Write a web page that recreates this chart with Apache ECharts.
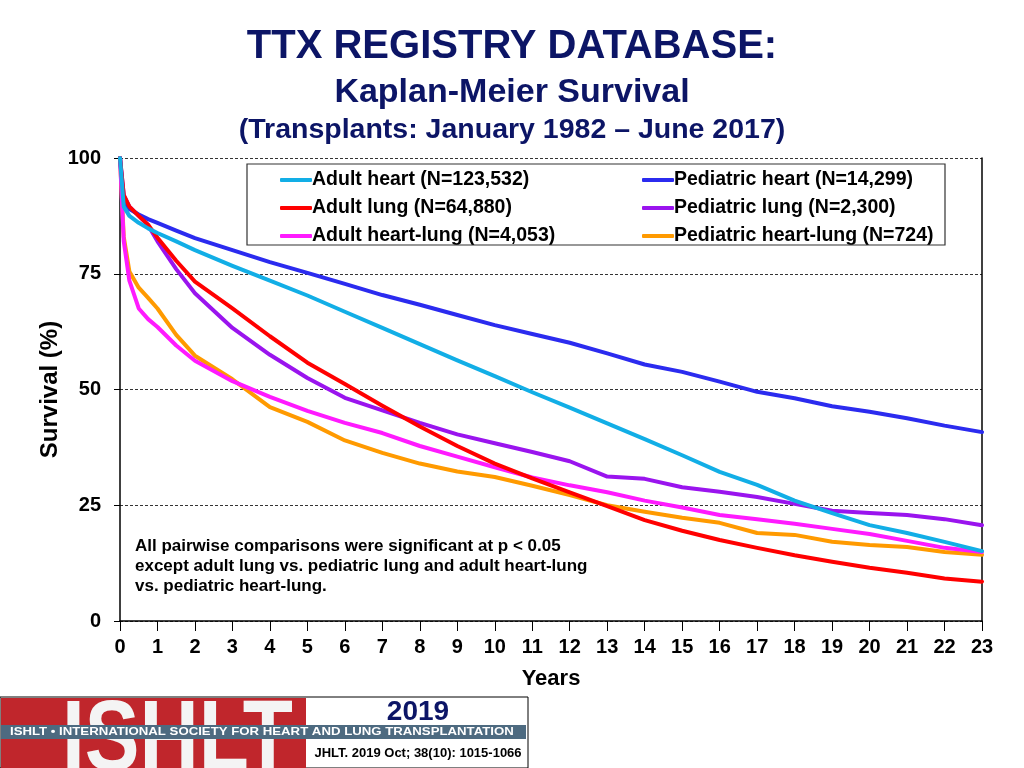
<!DOCTYPE html>
<html><head><meta charset="utf-8">
<script src="https://cdn.jsdelivr.net/npm/echarts@6/dist/echarts.min.js"></script>
<style>html,body{margin:0;padding:0;background:#fff}#c{width:1024px;height:768px}</style>
</head><body><div id="c"></div>
<script>
var years = [0,0.1,0.25,0.5,0.75,1,1.5,2,3,4,5,6,7,8,9,10,11,12,13,14,15,16,17,18,19,20,21,22,23];
var adultHeart = [100,89.5,87.5,86,84.8,83.8,82,80.1,76.7,73.5,70.3,66.8,63.3,59.8,56.3,52.9,49.4,46.1,42.7,39.3,35.8,32.2,29.4,26,23.3,20.7,19.0,17.1,15.1];
var pedHeart = [100,90.5,89,87.8,86.8,86,84.3,82.7,80.1,77.5,75.2,72.8,70.4,68.3,66.1,63.9,62.0,60.1,57.8,55.4,53.8,51.7,49.5,48.1,46.4,45.2,43.8,42.2,40.8];
var adultLung = [100,92,89.5,87.5,85.6,82.8,77.8,73.3,67.5,61.5,55.8,51.2,46.5,42.0,37.8,34.0,30.8,27.8,24.8,21.8,19.5,17.5,15.8,14.2,12.8,11.5,10.4,9.2,8.5];
var pedLung = [100,92,89.5,87.5,85.5,82,76,70.8,63.3,57.5,52.5,48.2,45.5,42.8,40.3,38.4,36.5,34.5,31.2,30.7,28.9,27.9,26.8,25.3,23.8,23.3,22.9,22.0,20.7];
var adultHL = [100,82,73.5,67.5,65.2,63.5,59.5,56.2,51.8,48.4,45.4,42.8,40.6,37.8,35.5,33.2,31.0,29.3,27.8,26.0,24.5,22.9,22.0,21.0,19.9,18.8,17.3,15.8,14.9];
var pedHL = [100,83,75.5,72,69.8,67.5,61.8,57.3,52.2,46.2,43.0,39.0,36.3,34.0,32.3,31.1,29.2,27.2,25.0,23.6,22.3,21.2,19.0,18.6,17.1,16.4,16.0,14.9,14.3];
var seriesNames = ['Adult heart (N=123,532)','Adult lung (N=64,880)','Adult heart-lung (N=4,053)','Pediatric heart (N=14,299)','Pediatric lung (N=2,300)','Pediatric heart-lung (N=724)'];
var seriesData = [adultHeart, adultLung, adultHL, pedHeart, pedLung, pedHL];
var colors = ['#12aee6','#ff0000','#ff1aff','#2b2bef','#9a14ee','#ff9a00'];
var yTicks = [0,25,50,75,100];
var FONT = 'Liberation Sans, Arial, sans-serif';
var NAVY = '#0c1566';

function pairs(d){ return years.map(function(x,i){ return [x, d[i]]; }); }

var chart = echarts.init(document.getElementById('c'));
var series = seriesData.map(function(d,i){
  return {name: seriesNames[i], type:'line', data: pairs(d), symbol:'none', smooth:false,
    lineStyle:{color:colors[i], width:4, cap:'round', join:'round'}, itemStyle:{color:colors[i]}, z: 10-i};
});
var legText = {fontFamily:FONT, fontWeight:'bold', fontSize:19.5, color:'#000', lineHeight:28, padding:[0,0,0,-5]};
chart.setOption({
  animation:false,
  backgroundColor:'#fff',
  title:[
    {text:'TTX REGISTRY DATABASE:', left:'center', top:22, textStyle:{fontFamily:FONT, fontWeight:'bold', fontSize:40, color:NAVY}},
    {text:'Kaplan-Meier Survival', left:'center', top:71, textStyle:{fontFamily:FONT, fontWeight:'bold', fontSize:34, color:NAVY}},
    {text:'(Transplants: January 1982 \u2013 June 2017)', left:'center', top:111, textStyle:{fontFamily:FONT, fontWeight:'bold', fontSize:28.5, color:NAVY}}
  ],
  legend:[
    {data:seriesNames.slice(0,3), orient:'vertical', left:275, top:161, itemWidth:32, itemHeight:4, itemGap:0, icon:'roundRect', textStyle:legText, selectedMode:false},
    {data:seriesNames.slice(3), orient:'vertical', left:637, top:161, itemWidth:32, itemHeight:4, itemGap:0, icon:'roundRect', textStyle:legText, selectedMode:false}
  ],
  grid:{left:120, right:42, top:158, bottom:147},
  xAxis:{type:'value', min:0, max:23, interval:1,
    name:'Years', nameLocation:'middle', nameGap:47, nameMoveOverlap:false, nameTextStyle:{fontFamily:FONT, fontWeight:'bold', fontSize:22, color:'#000'},
    axisLine:{lineStyle:{color:'#000', width:1.5}}, axisTick:{show:true, length:10, lineStyle:{color:'#000'}},
    axisLabel:{fontFamily:FONT, fontWeight:'bold', fontSize:20, color:'#000', margin:16},
    splitLine:{show:false}},
  yAxis:[{type:'value', min:0, max:100, interval:25,
    name:'Survival (%)', nameLocation:'middle', nameGap:58, nameMoveOverlap:false, nameTextStyle:{fontFamily:FONT, fontWeight:'bold', fontSize:24, color:'#000'},
    axisLine:{show:true, lineStyle:{color:'#000', width:1.5}}, axisTick:{show:true, length:6, lineStyle:{color:'#000'}},
    axisLabel:{fontFamily:FONT, fontWeight:'bold', fontSize:20, color:'#000', margin:19, formatter:function(v){return yTicks.indexOf(v)>=0?String(v):'';}},
    splitLine:{show:true, lineStyle:{color:'#333', type:[3,2], width:1}}},
   {type:'value', min:0, max:100, interval:25, position:'right', axisLine:{show:true, lineStyle:{color:'#000', width:1.5}}, axisTick:{show:false}, axisLabel:{show:false}, splitLine:{show:false}}],
  series: series,
  graphic:[
    {type:'rect', shape:{x:247, y:164, width:698, height:81}, style:{fill:'none', stroke:'#333', lineWidth:1.2}, z:5},
    {type:'text', left:135, top:536, style:{text:'All pairwise comparisons were significant at p < 0.05\nexcept adult lung vs. pediatric lung and adult heart-lung\nvs. pediatric heart-lung.', fontFamily:FONT, fontWeight:'bold', fontSize:17, lineHeight:20, fill:'#000'}},
    {type:'rect', shape:{x:0, y:697, width:528, height:71}, style:{fill:'#fff', stroke:'#000', lineWidth:1}},
    {type:'rect', shape:{x:1, y:698, width:305, height:70}, style:{fill:'#c0262c'}},
    {type:'text', x:62, y:742, scaleX:0.82, style:{text:'ISHLT', verticalAlign:'middle', fontFamily:FONT, fontWeight:'bold', fontSize:100, fill:'#f4f4f4'}},
    {type:'rect', shape:{x:1, y:725, width:525, height:14}, style:{fill:'#4d6a80'}},
    {type:'text', x:10, y:732, scaleX:1.2, style:{text:'ISHLT \u2022 INTERNATIONAL SOCIETY FOR HEART AND LUNG TRANSPLANTATION', verticalAlign:'middle', fontFamily:FONT, fontWeight:'bold', fontSize:11, fill:'#fff'}},
    {type:'text', x:418, y:712, style:{text:'2019', align:'center', verticalAlign:'middle', fontFamily:FONT, fontWeight:'bold', fontSize:28, fill:NAVY}},
    {type:'text', x:418, y:753, style:{text:'JHLT. 2019 Oct; 38(10): 1015-1066', align:'center', verticalAlign:'middle', fontFamily:FONT, fontWeight:'bold', fontSize:13, fill:'#000'}}
  ]
});
</script></body></html>
